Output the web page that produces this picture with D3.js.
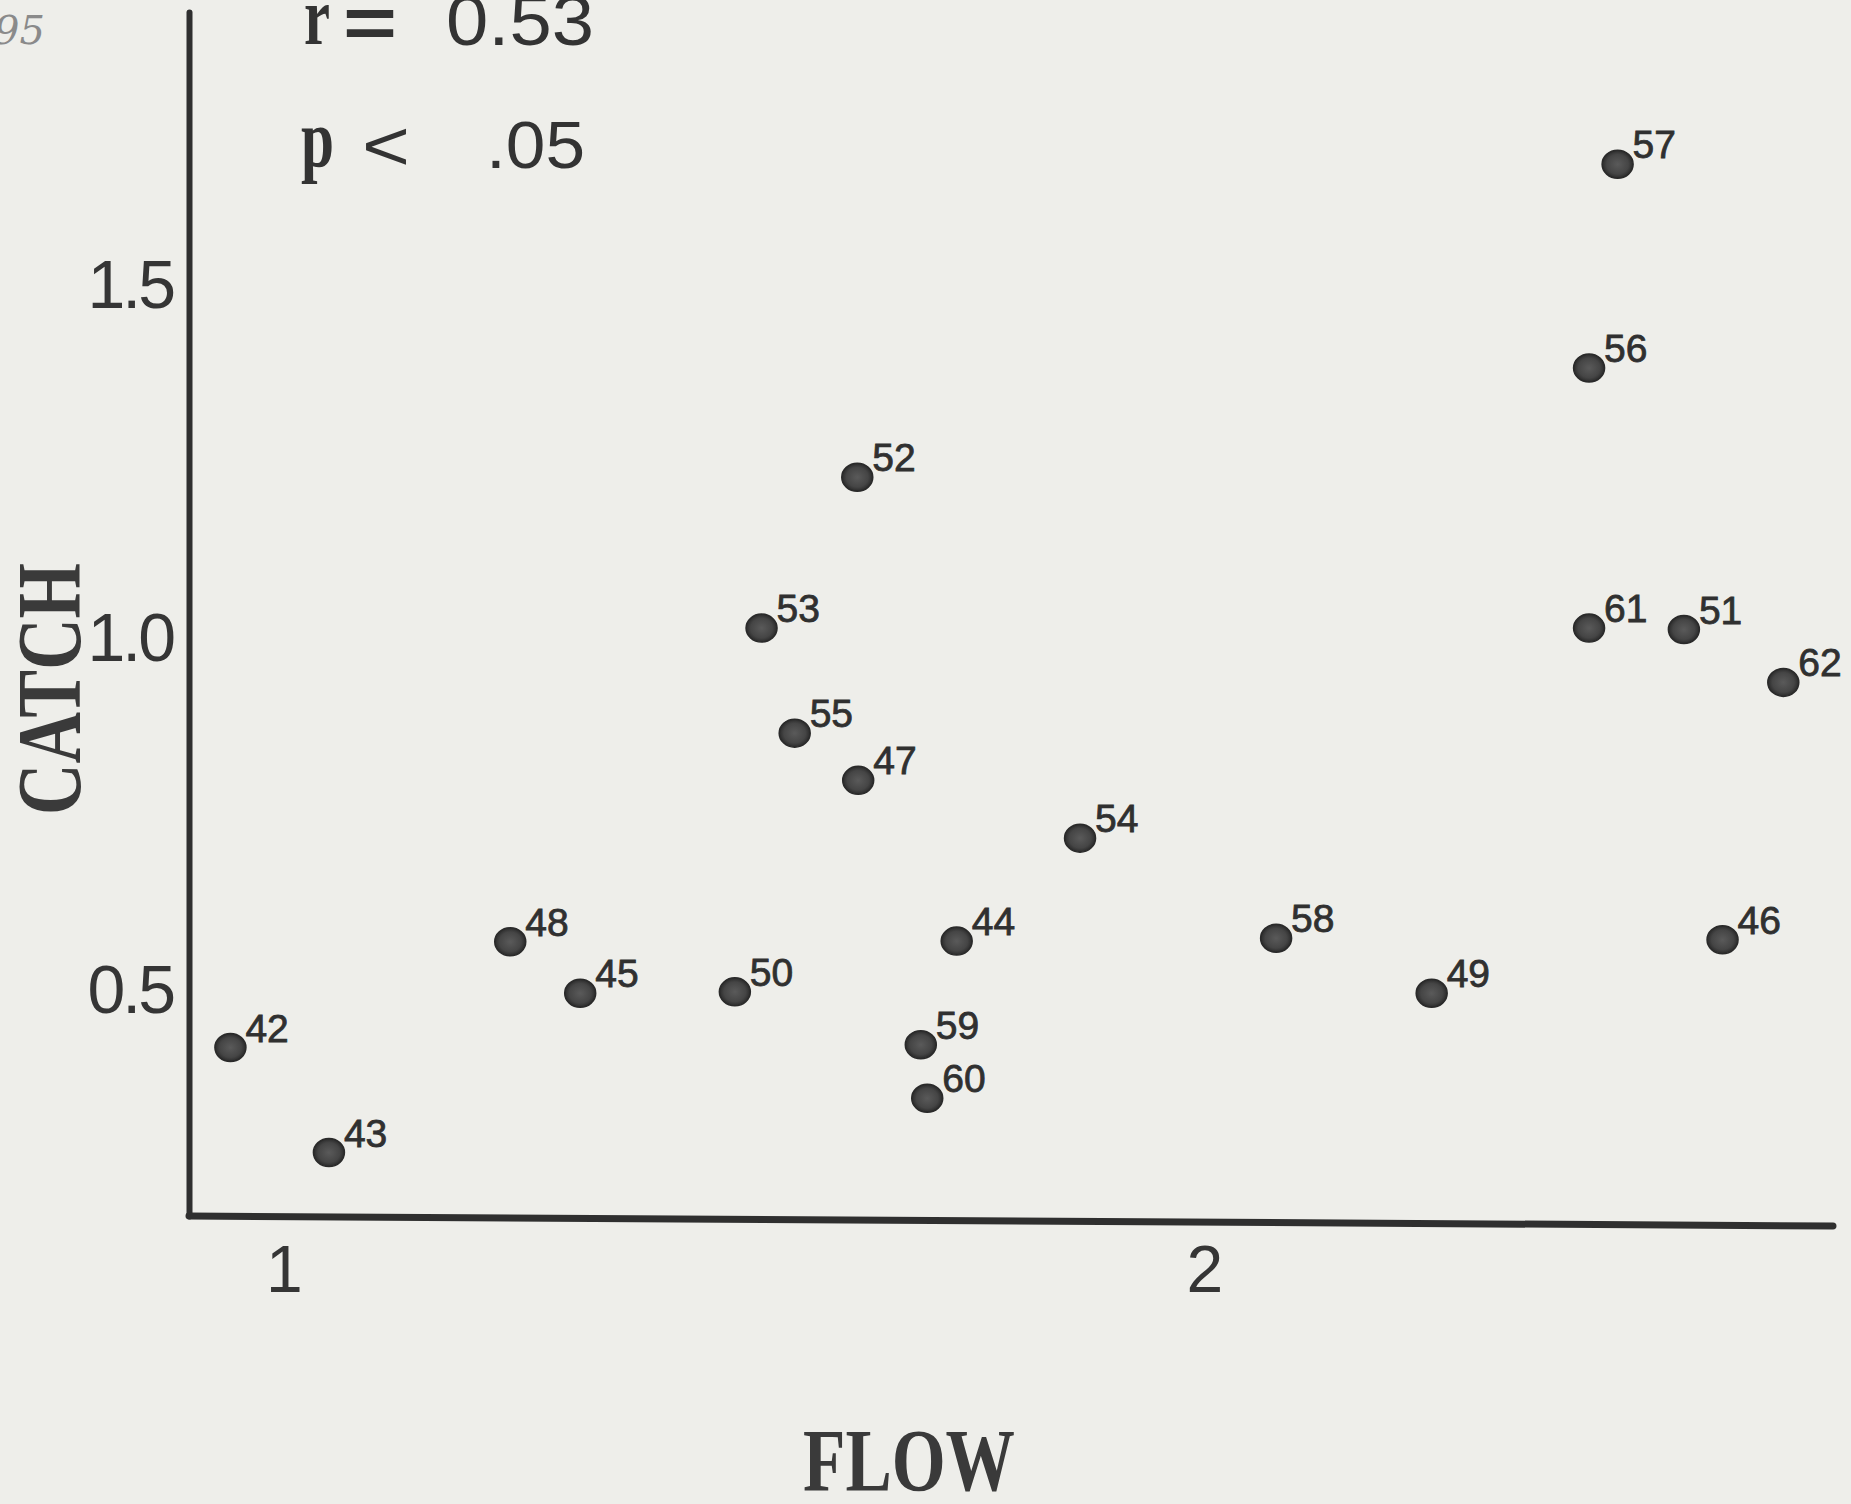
<!DOCTYPE html>
<html>
<head>
<meta charset="utf-8">
<script src="https://cdn.jsdelivr.net/npm/d3@7"></script>
<style>
html, body { margin: 0; padding: 0; background: #eeeeea; }
#chart { width: 1851px; height: 1504px; }
</style>
</head>
<body>
<div id="chart"></div>
<script>

// point labels (year) and values
var years = ["42","43","48","45","50","53","55","52","47","59","60","44","54","58","49","57","56","61","51","62","46"];
var flow = [0.942, 1.049, 1.246, 1.322, 1.490, 1.519, 1.555, 1.623, 1.624, 1.692, 1.699, 1.731, 1.865, 2.078, 2.247, 2.449, 2.418, 2.418, 2.521, 2.629, 2.563];
var catchVals = [0.420, 0.271, 0.570, 0.497, 0.499, 1.015, 0.866, 1.229, 0.799, 0.424, 0.348, 0.571, 0.717, 0.575, 0.497, 1.673, 1.384, 1.015, 1.013, 0.938, 0.573];

var xTicks = [1, 2];
var yTicks = [0.5, 1.0, 1.5];

var rText = "0.53";
var pText = ".05";

var width = 1851;
var height = 1504;
var ink = "#2f2f2f";

var svg = d3.select("#chart").append("svg")
	.attr("width", width)
	.attr("height", height);

var points = years.map(function(d, i){
	return {name: d, x: flow[i], y: catchVals[i]};
});

// scales (domain = what the axis lines span)
var x = d3.scaleLinear().domain([0.897, 2.683]).range([189, 1833]);
var y = d3.scaleLinear().domain([0.181, 1.889]).range([1216, 12]);

// dot shading
var grad = svg.append("defs").append("radialGradient")
	.attr("id", "dotfill");
grad.append("stop").attr("offset", "0%").attr("stop-color", "#5a5a5a");
grad.append("stop").attr("offset", "70%").attr("stop-color", "#454545");
grad.append("stop").attr("offset", "100%").attr("stop-color", "#2a2a2a");

// y axis
var yAxis = svg.append("g")
	.attr("transform", "translate(" + x.range()[0] + ",0)")
	.call(d3.axisLeft(y).tickValues(yTicks).tickSize(0).tickPadding(16).tickFormat(d3.format(".1f")));

yAxis.select(".domain")
	.attr("stroke", ink)
	.attr("stroke-width", 6)
	.attr("stroke-linecap", "round");

yAxis.selectAll("text")
	.attr("font-family", "'Liberation Sans', Arial, sans-serif")
	.attr("font-size", 68)
	.attr("letter-spacing", -3)
	.attr("fill", "#353535");

// x axis (the scanned line drops a little towards the right)
var xAxis = svg.append("g")
	.attr("transform", "translate(0," + y.range()[0] + ")")
	.call(d3.axisBottom(x).tickValues(xTicks).tickSize(0).tickPadding(29).tickFormat(d3.format("d")));

xAxis.select(".domain")
	.attr("d", "M" + x.range()[0] + ",0L" + x.range()[1] + ",10")
	.attr("stroke", ink)
	.attr("stroke-width", 7)
	.attr("stroke-linecap", "round");

xAxis.selectAll("text")
	.attr("font-family", "'Liberation Sans', Arial, sans-serif")
	.attr("font-size", 66)
	.attr("fill", "#353535");

// dots
svg.append("g")
	.selectAll("ellipse")
	.data(points)
	.enter()
	.append("ellipse")
	.attr("cx", function(d){ return x(d.x); })
	.attr("cy", function(d){ return y(d.y); })
	.attr("rx", 15.5)
	.attr("ry", 14)
	.attr("fill", "url(#dotfill)")
	.attr("stroke", "#2a2a2a")
	.attr("stroke-width", 1.5);

// year labels
svg.append("g")
	.selectAll("text")
	.data(points)
	.enter()
	.append("text")
	.attr("x", function(d){ return x(d.x) + 15; })
	.attr("y", function(d){ return y(d.y) - 6; })
	.attr("font-family", "'Liberation Sans', Arial, sans-serif")
	.attr("font-size", 39)
	.attr("fill", "#303030")
	.attr("stroke", "#303030")
	.attr("stroke-width", 0.8)
	.text(function(d){ return d.name; });

// axis titles
svg.append("text")
	.attr("transform", "translate(80,689) rotate(-90)")
	.attr("text-anchor", "middle")
	.attr("font-family", "'Liberation Serif', 'Times New Roman', serif")
	.attr("font-weight", "bold")
	.attr("font-size", 90)
	.attr("textLength", 252)
	.attr("lengthAdjust", "spacingAndGlyphs")
	.attr("fill", "#3a3a3a")
	.text("CATCH");

svg.append("text")
	.attr("x", 909)
	.attr("y", 1490)
	.attr("text-anchor", "middle")
	.attr("font-family", "'Liberation Serif', 'Times New Roman', serif")
	.attr("font-weight", "bold")
	.attr("font-size", 88)
	.attr("textLength", 212)
	.attr("lengthAdjust", "spacingAndGlyphs")
	.attr("fill", "#3a3a3a")
	.text("FLOW");

// stats block
var stats = svg.append("g").attr("fill", "#333");

function serifLetter(t, xx, yy, len){
	stats.append("text")
		.attr("x", xx).attr("y", yy)
		.attr("font-family", "'Liberation Serif', 'Times New Roman', serif")
		.attr("font-weight", "bold")
		.attr("font-size", 82)
		.attr("textLength", len)
		.attr("lengthAdjust", "spacingAndGlyphs")
		.text(t);
}
function sansText(t, xx, yy, size, len, bold){
	stats.append("text")
		.attr("x", xx).attr("y", yy)
		.attr("font-family", "'Liberation Sans', Arial, sans-serif")
		.attr("font-weight", bold ? "bold" : "normal")
		.attr("font-size", size)
		.attr("textLength", len)
		.attr("lengthAdjust", "spacingAndGlyphs")
		.text(t);
}

serifLetter("r", 304, 44, 26);
sansText("=", 343, 47, 72, 54, true);
sansText(rText, 446, 45, 70, 148, false);

serifLetter("p", 301, 166, 33);
sansText("<", 362, 170, 70, 48, false);
sansText(pText, 486, 168, 66, 99, false);

// pencil note in the corner of the scan
svg.append("text")
	.attr("x", -6)
	.attr("y", 44)
	.attr("font-family", "'DejaVu Serif', serif")
	.attr("font-style", "italic")
	.attr("font-size", 40)
	.attr("fill", "#8a8a8a")
	.text("95");

</script>
</body>
</html>
